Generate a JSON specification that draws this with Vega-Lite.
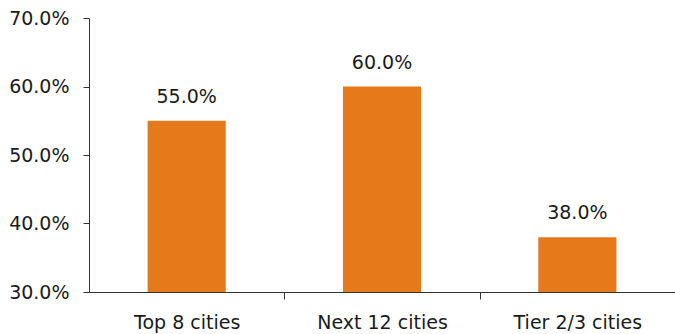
{
  "$schema": "https://vega.github.io/schema/vega-lite/v6.json",
  "width": 586,
  "height": 274,
  "autosize": "none",
  "padding": {"left": 89, "top": 18, "right": 0, "bottom": 42},
  "background": "white",
  "config": {"view": {"stroke": null}, "font": "DejaVu Sans"},
  "data": {"values": [
    {"category": "Top 8 cities", "value": 0.55},
    {"category": "Next 12 cities", "value": 0.60},
    {"category": "Tier 2/3 cities", "value": 0.38}
  ]},
  "encoding": {
    "x": {"field": "category", "type": "nominal", "sort": null,
      "scale": {"paddingInner": 0.6, "paddingOuter": 0.3},
      "axis": {"title": null, "labelAngle": 0, "labelFontSize": 19, "labelColor": "#1a1a1a", "labelFont": "DejaVu Sans",
        "tickOffset": 97.7, "labelOffset": -97.7, "tickSize": 7, "tickColor": "#333", "domainColor": "#333", "labelPadding": 14}},
    "y": {"field": "value", "type": "quantitative",
      "scale": {"domain": [0.3, 0.7], "nice": false, "zero": false},
      "axis": {"title": null, "format": ".1%", "values": [0.3, 0.4, 0.5, 0.6, 0.7], "grid": false,
        "labelFontSize": 19, "labelColor": "#1a1a1a", "labelFont": "DejaVu Sans", "tickSize": 6, "tickColor": "#333", "domainColor": "#333", "labelPadding": 14}}
  },
  "layer": [
    {"mark": {"type": "bar", "color": "#E6791A", "clip": true}, "encoding": {"y2": {"datum": 0.3}}},
    {"mark": {"type": "text", "dy": -14, "fontSize": 19, "font": "DejaVu Sans", "color": "#1a1a1a", "baseline": "bottom"},
     "encoding": {"text": {"field": "value", "type": "quantitative", "format": ".1%"}}}
  ]
}
